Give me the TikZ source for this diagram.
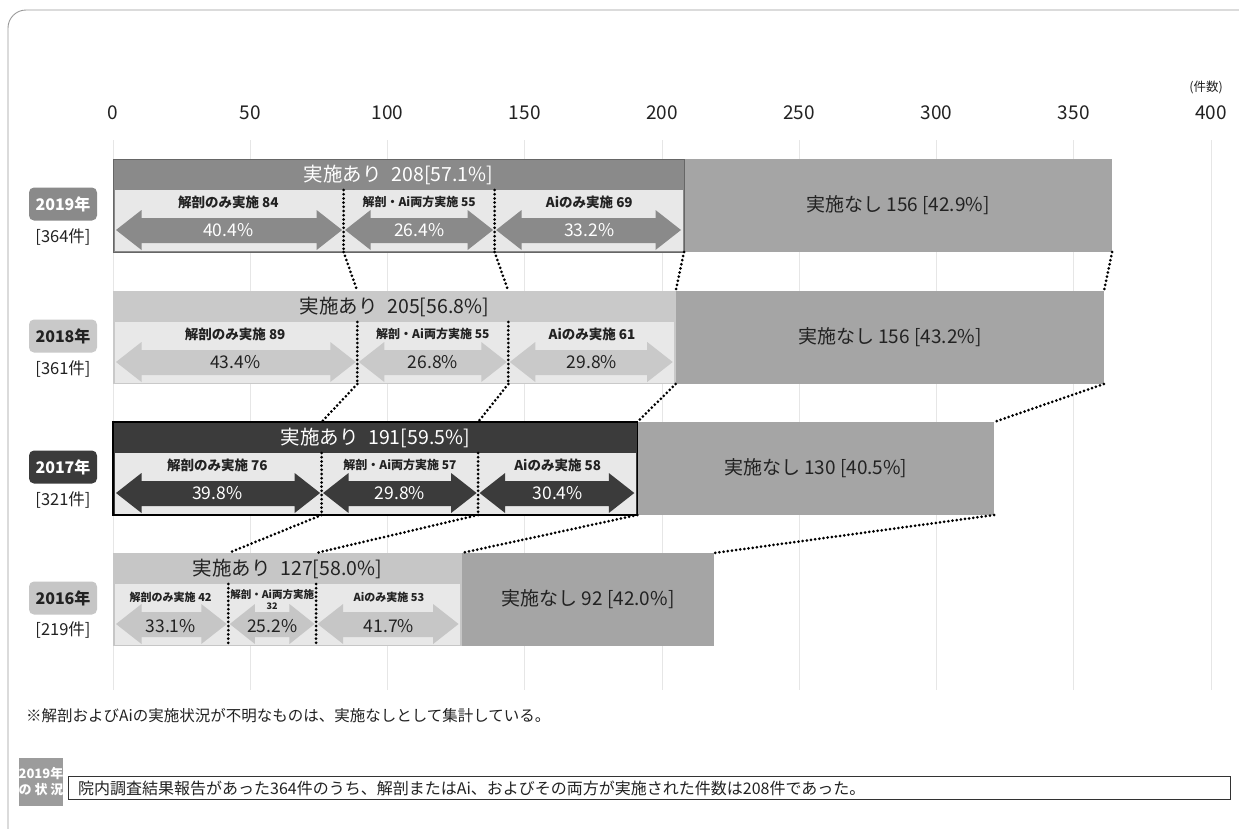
\documentclass[tikz,border=0pt]{standalone}
\usepackage{fontspec}
\setmainfont{Noto Sans CJK JP}
\definecolor{cA}{HTML}{8A8A8A}
\definecolor{cB}{HTML}{C9C9C9}
\definecolor{cC}{HTML}{3B3B3B}
\definecolor{cD}{HTML}{C6C6C6}
\definecolor{nonec}{HTML}{A5A5A5}
\definecolor{innerc}{HTML}{E8E8E8}
\definecolor{gridc}{HTML}{E6E6E6}
\definecolor{framec}{HTML}{9A9A9A}
\definecolor{txt}{HTML}{222222}
\tikzset{
  fsz/.style={font=\fontsize{#1}{#1}\selectfont},
  tick/.style={fsz=19, text=txt, inner sep=0pt},
  titletxt/.style={fsz=19.5, inner sep=0pt},
  nonetxt/.style={fsz=19, text=txt, inner sep=0pt},
  lbl/.style={font=\fontsize{#1}{#1}\selectfont\bfseries, text=txt, inner sep=0pt},
  pct/.style={fsz=17.5, inner sep=0pt},
  yearbox/.style={rounded corners=5pt, minimum width=68pt, minimum height=33pt, inner sep=0pt, font=\fontsize{16}{16}\selectfont\bfseries},
  counttxt/.style={fsz=16.5, text=txt, inner sep=0pt},
  dotline/.style={line width=3pt, line cap=round, dash pattern=on 0pt off 4.2pt, black},
}
% #1 id, #2 T, #3 b1, #4 b2, #5 b3, #6 e, #7 strip colour
\newcommand\barframe[7]{%
  \fill[#7] (113,#2) rectangle (#5,#2+93);
  \fill[nonec] (#5,#2) rectangle (#6,#2+93);
  \fill[innerc] (114.5,#2+31) rectangle (#5-1.5,#2+91.5);
  \coordinate (#1-b1-top) at (#3,#2);
  \coordinate (#1-b1-in) at (#3,#2+31);
  \coordinate (#1-b1-bot) at (#3,#2+93);
  \coordinate (#1-b2-top) at (#4,#2);
  \coordinate (#1-b2-in) at (#4,#2+31);
  \coordinate (#1-b2-bot) at (#4,#2+93);
  \coordinate (#1-b3-top) at (#5,#2);
  \coordinate (#1-b3-bot) at (#5,#2+93);
  \coordinate (#1-e-top) at (#6,#2);
  \coordinate (#1-e-bot) at (#6,#2+93);
}
% #1 L, #2 R, #3 T, #4 colour
\newcommand\segarrow[4]{%
  \pgfmathsetmacro\hl{min(27,(#2-#1)/3.3)}%
  \fill[#4] (#1+1.5,#3+71) -- (#1+\hl,#3+51) -- (#1+\hl,#3+59) -- (#2-\hl,#3+59)
    -- (#2-\hl,#3+51) -- (#2-1.5,#3+71) -- (#2-\hl,#3+91) -- (#2-\hl,#3+84)
    -- (#1+\hl,#3+84) -- (#1+\hl,#3+91) -- cycle;
}
\begin{document}
\begin{tikzpicture}[x=1pt,y=-1pt]
\useasboundingbox (0,0) rectangle (1239,828);
\fill[white] (0,0) rectangle (1239,828);
% frame
\draw[framec, line width=0.9pt, rounded corners=18pt] (8,860) -- (8,10) -- (1280,10);
% grid
\foreach \k in {0,...,8} \draw[gridc, line width=0.8pt] ({113+137.25*\k},140) -- ({113+137.25*\k},690);
% ticks
\foreach \k/\v in {0/0,1/50,2/100,3/150,4/200,5/250,6/300,7/350,8/400}
  \node[tick] (tk\k) at ({113+137.25*\k},113) {\v};
\node[fsz=12.5, text=txt, inner sep=0pt] (unit) at (1206,87) {(件数)};

% ---------- 2019 ----------
\barframe{y19}{159}{343.6}{494.6}{684.0}{1112.2}{cA}
\draw[black!60, line width=0.7pt] (113,159) rectangle (684,252);
\segarrow{114.5}{343.6}{159}{cA}
\segarrow{343.6}{494.6}{159}{cA}
\segarrow{494.6}{682.5}{159}{cA}
\draw[dotline] (y19-b1-in) -- (y19-b1-bot);
\draw[dotline] (y19-b2-in) -- (y19-b2-bot);
\node[titletxt, text=white] (t19) at (398.5,175) {実施あり\hspace{0.5em}208[57.1\%]};
\node[nonetxt] (n19) at (898,205) {実施なし 156 [42.9\%]};
\node[lbl=13.5] (l19a) at (228.3,202) {解剖のみ実施 84};
\node[lbl=12] (l19b) at (419.1,202) {解剖・Ai両方実施 55};
\node[lbl=13.5] (l19c) at (589.3,202) {Aiのみ実施 69};
\node[pct, text=white] (p19a) at (228.3,230) {40.4\%};
\node[pct, text=white] (p19b) at (419.1,230) {26.4\%};
\node[pct, text=white] (p19c) at (589.3,230) {33.2\%};
\node[yearbox, fill=cA, text=white] (yr19) at (63,204) {2019年};
\node[counttxt] (c19) at (63,237) {[364件]};

% ---------- 2018 ----------
\barframe{y18}{291}{357.3}{508.3}{675.7}{1103.9}{cB}
\segarrow{114.5}{357.3}{291}{cB}
\segarrow{357.3}{508.3}{291}{cB}
\segarrow{508.3}{674.2}{291}{cB}
\draw[dotline] (y18-b1-in) -- (y18-b1-bot);
\draw[dotline] (y18-b2-in) -- (y18-b2-bot);
\node[titletxt, text=txt] (t18) at (394.4,307) {実施あり\hspace{0.5em}205[56.8\%]};
\node[nonetxt] (n18) at (889.8,337) {実施なし 156 [43.2\%]};
\node[lbl=13.5] (l18a) at (235.2,334) {解剖のみ実施 89};
\node[lbl=12] (l18b) at (432.8,334) {解剖・Ai両方実施 55};
\node[lbl=13.5] (l18c) at (592.0,334) {Aiのみ実施 61};
\node[pct, text=txt] (p18a) at (235.2,362) {43.4\%};
\node[pct, text=txt] (p18b) at (432.8,362) {26.8\%};
\node[pct, text=txt] (p18c) at (592.0,362) {29.8\%};
\node[yearbox, fill=cB, text=txt] (yr18) at (63,336) {2018年};
\node[counttxt] (c18) at (63,369) {[361件]};

% ---------- 2017 ----------
\barframe{y17}{422}{321.6}{478.1}{637.3}{994.1}{cC}
\segarrow{114.5}{321.6}{422}{cC}
\segarrow{321.6}{478.1}{422}{cC}
\segarrow{478.1}{635.8}{422}{cC}
\draw[dotline] (y17-b1-in) -- (y17-b1-bot);
\draw[dotline] (y17-b2-in) -- (y17-b2-bot);
\draw[black, line width=1.6pt] (113,422) rectangle (637.3,515);
\node[titletxt, text=white] (t17) at (375.2,438) {実施あり\hspace{0.5em}191[59.5\%]};
\node[nonetxt] (n17) at (815.7,468) {実施なし 130 [40.5\%]};
\node[lbl=13.5] (l17a) at (217.3,465) {解剖のみ実施 76};
\node[lbl=12] (l17b) at (399.9,465) {解剖・Ai両方実施 57};
\node[lbl=13.5] (l17c) at (557.7,465) {Aiのみ実施 58};
\node[pct, text=white] (p17a) at (217.3,493) {39.8\%};
\node[pct, text=white] (p17b) at (399.9,493) {29.8\%};
\node[pct, text=white] (p17c) at (557.7,493) {30.4\%};
\node[yearbox, fill=cC, text=white] (yr17) at (63,467) {2017年};
\node[counttxt] (c17) at (63,500) {[321件]};

% ---------- 2016 ----------
\barframe{y16}{553}{228.3}{316.1}{461.6}{714.2}{cD}
\segarrow{114.5}{228.3}{553}{cD}
\segarrow{228.3}{316.1}{553}{cD}
\segarrow{316.1}{460.1}{553}{cD}
\draw[dotline] (y16-b1-in) -- (y16-b1-bot);
\draw[dotline] (y16-b2-in) -- (y16-b2-bot);
\node[titletxt, text=txt] (t16) at (287.3,569) {実施あり\hspace{0.5em}127[58.0\%]};
\node[nonetxt] (n16) at (588,599) {実施なし 92 [42.0\%]};
\node[lbl=11] (l16a) at (170.7,597) {解剖のみ実施 42};
\node[lbl=10.5] (l16b) at (272.2,595) {解剖・Ai両方実施};
\node[lbl=9] (l16b2) at (272.2,606) {32};
\node[lbl=11] (l16c) at (388.9,597) {Aiのみ実施 53};
\node[pct, text=txt] (p16a) at (170.7,626) {33.1\%};
\node[pct, text=txt] (p16b) at (272.2,626) {25.2\%};
\node[pct, text=txt] (p16c) at (388.9,626) {41.7\%};
\node[yearbox, fill=cD, text=txt] (yr16) at (63,598) {2016年};
\node[counttxt] (c16) at (63,630) {[219件]};

% ---------- connectors ----------
\foreach \a/\b in {y19/y18, y18/y17, y17/y16}{
  \draw[dotline] (\a-b1-bot) -- (\b-b1-top);
  \draw[dotline] (\a-b2-bot) -- (\b-b2-top);
  \draw[dotline] (\a-b3-bot) -- (\b-b3-top);
  \draw[dotline] (\a-e-bot) -- (\b-e-top);
}

% ---------- notes ----------
\node[fsz=15.5, text=txt, anchor=west, inner sep=0pt] (note) at (26,716)
  {※解剖およびAiの実施状況が不明なものは、実施なしとして集計している。};
\node[fill=cA!85, text=white, minimum width=42pt, minimum height=48pt, inner sep=0pt,
  align=center, font=\fontsize{13}{16}\selectfont\bfseries] (sbox) at (41,782) {2019年\\の 状 況};
\node[draw=black!80, line width=0.8pt, anchor=west, minimum width=1162pt, minimum height=23pt,
  inner sep=0pt] (summ) at (68,788) {};
\node[fsz=16, text=txt, anchor=west, inner sep=0pt] (summtxt) at (78,788)
  {院内調査結果報告があった364件のうち、解剖またはAi、およびその両方が実施された件数は208件であった。};
\end{tikzpicture}
\end{document}
